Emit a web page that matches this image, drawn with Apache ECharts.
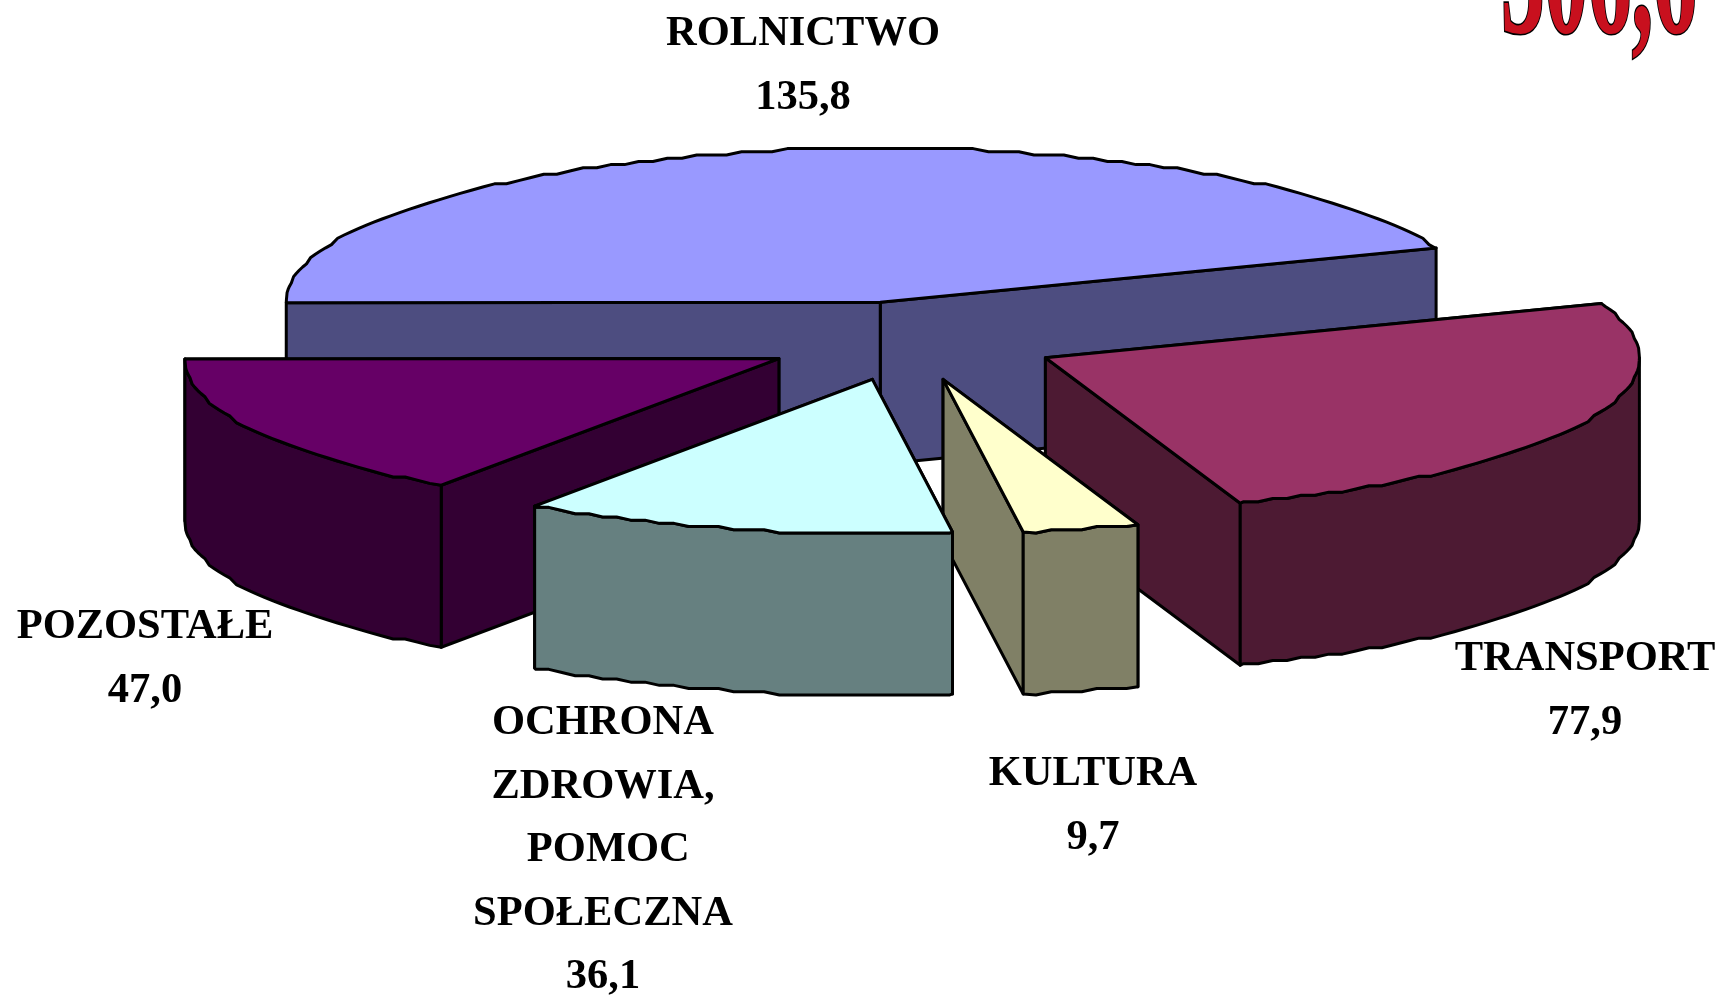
<!DOCTYPE html>
<html>
<head>
<meta charset="utf-8" />
<title>Wydatki</title>
<style>
html,body{margin:0;padding:0;background:#fff;overflow:hidden}
#chart{width:1725px;height:997px}
</style>
<script src="https://cdn.jsdelivr.net/npm/echarts@6/dist/echarts.min.js"></script>
</head>
<body>
<div id="chart"></div>
<script type="text/javascript">
// dane wykresu, w kolejnosci ruchu wskazowek zegara
var categories = ['ROLNICTWO', 'TRANSPORT', 'KULTURA', 'OCHRONA\nZDROWIA,\n POMOC\nSPOŁECZNA', 'POZOSTAŁE'];
var values = [135.8, 77.9, 9.7, 36.1, 47.0];
var totalLabel = '306,6';

// wyglad
var topColors = ['#9999FF', '#993366', '#FFFFCC', '#CCFFFF', '#660066'];
var sideColors = ['#4D4D80', '#4D1A33', '#808066', '#668080', '#330033'];
var explodes = [0.256, 0.256, 0.256, 0.256, 0.245];
var labelX = [803, 1585, 1093, 603, 145];
var labelY = [34, 659, 774, 723, 627];
var drawOrder = [0, 1, 4, 2, 3]; // od tylu do przodu

// rzut pseudo 3D
var cx = 907.7, cy = 341, rx = 594, ry = 154, depth = 162;
var startAngle = 180.15;
var lineHeight = 63.6;
var toRad = Math.PI / 180;

var total = values.reduce(function (a, b) { return a + b; }, 0);
var angles = [];
var acc = startAngle;
values.forEach(function (v) {
	var span = v / total * 360;
	angles.push([acc, acc - span]);
	acc -= span;
});

// luk rysowany lekko schodkowo, jak w oryginale; siatka katow wspolna dla gory i sciany
function arc(ox, oy, from, to) {
	var step = 1.5;
	var list = [from];
	for (var g = Math.ceil(from / step - 1) * step; g > to; g -= step) {
		if (g < from) list.push(g);
	}
	list.push(to);
	return list.map(function (deg, i) {
		var a = deg * toRad;
		var x = ox + rx * Math.cos(a);
		var y = oy - ry * Math.sin(a);
		if (i > 0 && i < list.length - 1) {
			// zaokraglenie liczone od globalnej siatki
			y = oy + Math.round((y - oy) / 3.2) * 3.2;
		}
		return [x, y];
	});
}

function poly(points, color) {
	return {
		type: 'polygon',
		shape: { points: points },
		style: { fill: color, stroke: '#000', lineWidth: 3, lineJoin: 'round' }
	};
}

function down(p) {
	return [p[0], p[1] + depth];
}

function renderSlice(params, api) {
	var i = drawOrder[api.value(0)];
	var from = angles[i][0], to = angles[i][1];
	var mid = (from + to) / 2 * toRad;
	var ox = cx + explodes[i] * rx * Math.cos(mid);
	var oy = cy - explodes[i] * ry * Math.sin(mid);
	var apex = [ox, oy];
	var edge = arc(ox, oy, from, to);
	var first = edge[0], last = edge[edge.length - 1];
	var kids = [];

	// scianki promieniowe: najpierw ta blizej tylu
	var ends = first[1] < last[1] ? [first, last] : [last, first];
	ends.forEach(function (p) {
		kids.push(poly([apex, p, down(p), down(apex)], sideColors[i]));
	});

	// sciana zewnetrzna tylko na przedniej polowie
	var wallFrom = Math.min(from, 0), wallTo = Math.max(to, -180);
	if (wallFrom > wallTo) {
		var front = arc(ox, oy, wallFrom, wallTo);
		kids.push(poly(front.concat(front.map(down).reverse()), sideColors[i]));
	}
	kids.push(poly([apex].concat(edge), topColors[i]));
	return { type: 'group', children: kids };
}

function renderLabel(params, api) {
	var i = api.value(0);
	var lines = categories[i].split('\n');
	lines.push(values[i].toFixed(1).replace('.', ','));
	return {
		type: 'group',
		children: lines.map(function (t, k) {
			return {
				type: 'text',
				x: labelX[i],
				y: labelY[i] + k * lineHeight,
				style: {
					text: t,
					fill: '#000',
					font: 'bold 42.5px "Liberation Serif"',
					align: 'center',
					verticalAlign: 'middle'
				}
			};
		})
	};
}

var myChart = echarts.init(document.getElementById('chart'));
var option = {
	animation: false,
	backgroundColor: '#fff',
	tooltip: { show: false },
	graphic: [{
		type: 'text',
		x: 1501,
		y: 74,
		scaleY: 2,
		z: 10,
		style: {
			text: totalLabel,
			fill: '#C8101E',
			stroke: '#000',
			lineWidth: 1.6,
			font: 'bold 87px "Liberation Serif"',
			align: 'left',
			verticalAlign: 'bottom',
			shadowColor: 'rgba(0,0,0,0.3)',
			shadowBlur: 2,
			shadowOffsetY: 1
		}
	}],
	series: [{
		type: 'custom',
		coordinateSystem: 'none',
		renderItem: renderSlice,
		data: drawOrder.map(function (d, k) { return [k]; }),
		silent: true
	}, {
		type: 'custom',
		coordinateSystem: 'none',
		renderItem: renderLabel,
		data: categories.map(function (d, k) { return [k]; }),
		silent: true
	}]
};
myChart.setOption(option);
</script>
</body>
</html>
